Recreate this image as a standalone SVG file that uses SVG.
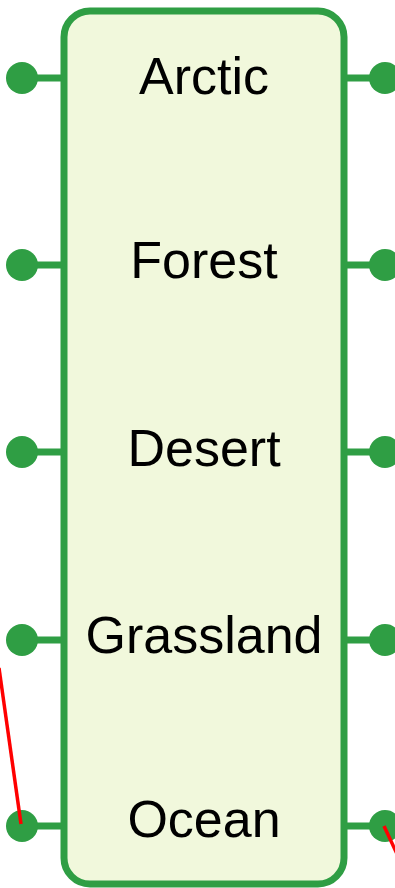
<svg xmlns="http://www.w3.org/2000/svg" width="395" height="888" viewBox="0 0 395 888">
<style>
.port{fill:#2f9e44}
.stub{stroke:#2f9e44;stroke-width:7}
.lbl{font-family:"Liberation Sans",Arial,sans-serif;font-size:52px;fill:#000;text-anchor:middle}
.wire{stroke:#ff0000;stroke-width:3.5;fill:none}
</style>
<rect width="395" height="888" fill="#ffffff"/>
<g id="node-biomes">
<rect x="64" y="11" width="280" height="873" rx="26" ry="26" fill="#f1f8dc" stroke="#2f9e44" stroke-width="7"/>
<text class="lbl" x="204" y="94">Arctic</text>
<text class="lbl" x="204" y="278">Forest</text>
<text class="lbl" x="204" y="466">Desert</text>
<text class="lbl" x="204" y="653">Grassland</text>
<text class="lbl" x="204" y="837">Ocean</text>
</g>
<g id="ports-left">
<line class="stub" x1="22" y1="78" x2="64" y2="78"/><circle class="port" cx="22" cy="78" r="16"/>
<line class="stub" x1="22" y1="265" x2="64" y2="265"/><circle class="port" cx="22" cy="265" r="16"/>
<line class="stub" x1="22" y1="452" x2="64" y2="452"/><circle class="port" cx="22" cy="452" r="16"/>
<line class="stub" x1="22" y1="640" x2="64" y2="640"/><circle class="port" cx="22" cy="640" r="16"/>
<line class="stub" x1="22" y1="826" x2="64" y2="826"/><circle class="port" cx="22" cy="826" r="16"/>
</g>
<g id="ports-right">
<line class="stub" x1="344" y1="78" x2="385" y2="78"/><circle class="port" cx="385" cy="78" r="16"/>
<line class="stub" x1="344" y1="265" x2="385" y2="265"/><circle class="port" cx="385" cy="265" r="16"/>
<line class="stub" x1="344" y1="452" x2="385" y2="452"/><circle class="port" cx="385" cy="452" r="16"/>
<line class="stub" x1="344" y1="640" x2="385" y2="640"/><circle class="port" cx="385" cy="640" r="16"/>
<line class="stub" x1="344" y1="826" x2="385" y2="826"/><circle class="port" cx="385" cy="826" r="16"/>
</g>
<g id="connectors">
<line class="wire" x1="-1" y1="668" x2="21" y2="824"/>
<line class="wire" x1="384" y1="826" x2="397" y2="854"/>
</g>
</svg>
